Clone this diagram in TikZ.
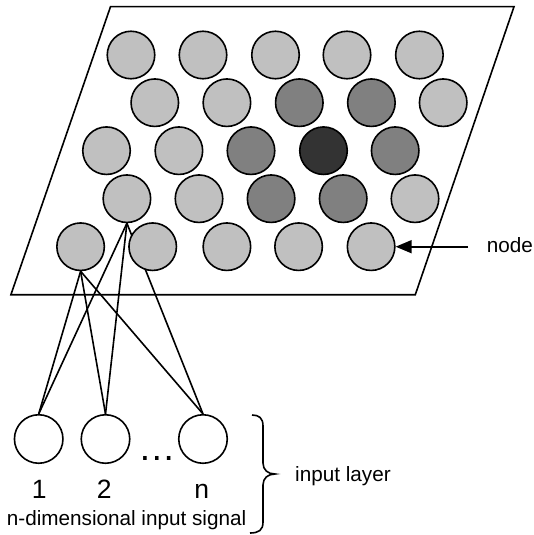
\documentclass[tikz,border=0pt]{standalone}
\usepackage{fontspec}
\setmainfont{Liberation Sans}
\usetikzlibrary{arrows.meta,backgrounds}
\definecolor{lightg}{HTML}{C0C0C0}
\definecolor{midg}{HTML}{808080}
\definecolor{darkg}{HTML}{333333}
\begin{document}
\begin{tikzpicture}[x=1pt,y=-1pt,
  lw/.style={line width=1.6pt},
  neuron/.style={circle,lw,draw=black,inner sep=0pt,minimum size=47.5pt},
  lgt/.style={neuron,fill=lightg},
  mid/.style={neuron,fill=midg},
  drk/.style={neuron,fill=darkg},
  inp/.style={circle,lw,draw=black,fill=white,inner sep=0pt,minimum size=48.5pt},
  lab/.style={inner sep=0pt,font=\fontsize{20.7}{24}\selectfont},
  digit/.style={inner sep=0pt,anchor=base,font=\fontsize{26.5}{30}\selectfont},
  conn/.style={lw}]
\useasboundingbox (0,0) rectangle (533,535);
% grid nodes
\node[lgt] (r1c1) at (131,55) {};
\node[lgt] (r1c2) at (203,55) {};
\node[lgt] (r1c3) at (275.5,55) {};
\node[lgt] (r1c4) at (347,55) {};
\node[lgt] (r1c5) at (419.4,55) {};
\node[lgt] (r2c1) at (154.8,102.7) {};
\node[lgt] (r2c2) at (226.9,102.7) {};
\node[mid] (r2c3) at (299.3,102.7) {};
\node[mid] (r2c4) at (371.4,102.7) {};
\node[lgt] (r2c5) at (443.2,102.7) {};
\node[lgt] (r3c1) at (106.5,150.7) {};
\node[lgt] (r3c2) at (178.9,150.7) {};
\node[mid] (r3c3) at (251,150.7) {};
\node[drk] (r3c4) at (323.5,150.7) {};
\node[mid] (r3c5) at (395.2,150.7) {};
\node[lgt] (r4c1) at (126.9,198.7) {};
\node[lgt] (r4c2) at (199,198.7) {};
\node[mid] (r4c3) at (271.1,198.7) {};
\node[mid] (r4c4) at (343.2,198.7) {};
\node[lgt] (r4c5) at (415,198.7) {};
\node[lgt] (r5c1) at (80.6,246.7) {};
\node[lgt] (r5c2) at (152.7,246.7) {};
\node[lgt] (r5c3) at (226.9,246.7) {};
\node[lgt] (r5c4) at (298.6,246.7) {};
\node[lgt] (r5c5) at (371.1,246.7) {};
% input nodes
\node[inp] (in1) at (38.7,439) {};
\node[inp] (in2) at (105.5,439) {};
\node[inp] (inn) at (203,439) {};
% plane and connections behind
\begin{pgfonlayer}{background}
\coordinate (ptl) at (110.5,6.7);
\coordinate (ptr) at (514,6.7);
\coordinate (pbr) at (415.3,294.7);
\coordinate (pbl) at (10.9,294.7);
\draw[lw,line join=miter] (ptl) -- (ptr) -- (pbr) -- (pbl) -- cycle;
\foreach \s in {r4c1,r5c1}{
  \foreach \t in {in1,in2,inn}{
    \draw[conn] (\s.south) -- (\t.north);
  }
}
\end{pgfonlayer}
% labels
\node[digit] (l1) at (39.3,498) {1};
\node[digit] (l2) at (104.3,498) {2};
\node[digit] (ln) at (201.7,498) {n};
\node[inner sep=0pt,anchor=base west,font=\fontsize{37.5}{40}\selectfont] (dots) at (137.8,460) {\char"2026};
\node[lab,anchor=base west] (sig) at (6.7,525) {n-dimensional input signal};
\node[lab,anchor=base west] (layer) at (295,481.5) {input layer};
\node[lab,anchor=base west] (nodelab) at (486.7,252) {node};
% arrow
\coordinate (arrstart) at (468,246.7);
\draw[lw,-{Triangle[length=16pt,width=13pt]}] (arrstart) -- (r5c5.east);
% brace
\coordinate (btop) at (252,415);
\coordinate (btip) at (275,474);
\coordinate (bbot) at (250,533);
\draw[lw] (btop) .. controls (259,415) and (263,418) .. (263,426) -- (263,463)
  .. controls (263,470) and (268,474) .. (btip)
  .. controls (268,474) and (263,478) .. (263,485) -- (263,522)
  .. controls (263,530) and (259,533) .. (bbot);
\end{tikzpicture}
\end{document}
